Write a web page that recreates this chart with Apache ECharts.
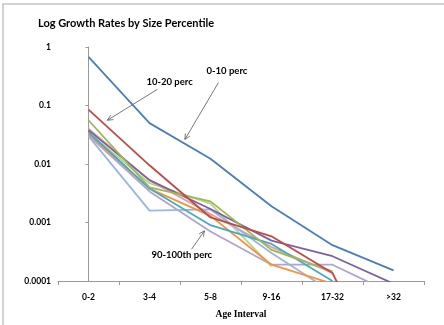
<!DOCTYPE html>
<html>
<head>
<meta charset="utf-8">
<script src="https://cdn.jsdelivr.net/npm/echarts@6/dist/echarts.min.js"></script>
<style>html,body{margin:0;padding:0;background:#fff;}#c{width:444px;height:325px;}</style>
</head>
<body>
<div id="c"></div>
<script>
const categories = ['0-2', '3-4', '5-8', '9-16', '17-32', '>32'];
const yTickLabels = ['0.0001', '0.001', '0.01', '0.1', '1'];
const seriesNames = ['0-10 perc', '10-20 perc', '20-30 perc', '30-40 perc', '40-50 perc',
  '50-60 perc', '60-70 perc', '70-80 perc', '80-90 perc', '90-100th perc'];
const p0_10   = [0.68, 0.050, 0.0123, 0.0019, 0.00041, 0.000152];
const p10_20  = [0.085, 0.0095, 0.00122, 0.00058, 0.000137, 0.000001];
const p20_30  = [0.056, 0.0040, 0.0023, 0.00034, 0.000146, null];
const p30_40  = [0.038, 0.0053, 0.0017, 0.00049, 0.000265, 0.00009];
const p40_50  = [0.035, 0.0038, 0.0009, 0.00043, 0.0001, null];
const p50_60  = [0.033, 0.0038, 0.0013, 0.00019, 0.00009, null];
const p60_70  = [0.030, 0.0016, 0.00167, 0.0003, 0.000064, null];
const p70_80  = [0.040, 0.0053, 0.0014, 0.00038, 0.000137, null];
const p80_90  = [0.034, 0.0047, 0.0021, 0.000178, null, null];
const p90_100 = [0.031, 0.0034, 0.0007, 0.00019, 0.00019, 0.00006];
const seriesValues = [p0_10, p10_20, p20_30, p30_40, p40_50, p50_60, p60_70, p70_80, p80_90, p90_100];
const colors = ['#4A7EBB', '#BE4B48', '#98B954', '#7D60A0', '#46AAC5', '#F69240',
  '#9DB4DC', '#E0A09D', '#B9D48A', '#B1A2CF'];
// annotations in data space: [label, textPos, lineStart, arrowTip] as [categoryIndex, value]
const annotations = [
  ['10-20 perc', [1.33, 0.255], [1.13, 0.189], [0.31, 0.056]],
  ['0-10 perc', [2.27, 0.388], [2.13, 0.246], [1.58, 0.0263]],
  ['90-100th perc', [1.53, 0.000278], [1.69, 0.00035], [1.90, 0.00072]]
];

const chart = echarts.init(document.getElementById('c'), null, {renderer: 'canvas'});
const labelFont = {fontFamily: 'Lato', fontWeight: 'bold', fontSize: 8.5, color: '#000'};
chart.setOption({
  animation: false,
  backgroundColor: '#fff',
  title: {
    text: 'Log Growth Rates by Size Percentile',
    left: 38, top: 18, padding: 0,
    textStyle: {fontFamily: 'Lato', fontWeight: 'bold', fontSize: 11, color: '#000'}
  },
  grid: {left: 58, right: 20, top: 47, bottom: 35},
  xAxis: [{
    type: 'category', data: categories, boundaryGap: true,
    name: 'Age Interval', nameLocation: 'middle', nameGap: 29,
    nameTextStyle: {fontFamily: 'Liberation Serif', fontWeight: 'bold', fontSize: 9.5, color: '#000'},
    axisLine: {show: true, lineStyle: {color: '#9a9a9a', width: 1}},
    axisTick: {show: true, length: 4, alignWithLabel: false, lineStyle: {color: '#9a9a9a'}},
    axisLabel: Object.assign({margin: 12}, labelFont),
    splitLine: {show: false}
  }, {
    type: 'value', min: -0.5, max: 5.5, show: false
  }],
  yAxis: {
    type: 'log', logBase: 10, min: 0.0001, max: 1,
    axisLine: {show: true, lineStyle: {color: '#9a9a9a', width: 1}},
    axisTick: {show: true, length: 3, lineStyle: {color: '#9a9a9a'}},
    axisLabel: Object.assign({margin: 7, formatter: function (v) {
      const i = Math.round(Math.log10(v)) + 4;
      return yTickLabels[i] !== undefined ? yTickLabels[i] : '';
    }}, labelFont),
    splitLine: {show: false}
  },
  series: seriesValues.map(function (vals, i) {
    return {
      name: seriesNames[i], type: 'line', data: vals, xAxisIndex: 0,
      showSymbol: false, symbol: 'none', clip: true, connectNulls: false,
      lineStyle: {color: colors[i], width: 1.8},
      z: 10 - i
    };
  })
});

function arrowGraphics() {
  const els = [];
  els.push({type: 'rect', shape: {x: 3, y: 4, width: 470, height: 400},
    style: {fill: 'none', stroke: '#c4c4c4', lineWidth: 1.5}, silent: true});
  annotations.forEach(function (a) {
    const t = chart.convertToPixel({xAxisIndex: 1, yAxisIndex: 0}, a[1]);
    const s = chart.convertToPixel({xAxisIndex: 1, yAxisIndex: 0}, a[2]);
    const e = chart.convertToPixel({xAxisIndex: 1, yAxisIndex: 0}, a[3]);
    els.push({type: 'text', x: t[0], y: t[1], style: {text: a[0], align: 'center', verticalAlign: 'middle',
      font: 'bold 9.5px Lato', fill: '#000'}});
    els.push({type: 'line', shape: {x1: s[0], y1: s[1], x2: e[0], y2: e[1]},
      style: {stroke: '#555', lineWidth: 0.8}});
    const ang = Math.atan2(e[1] - s[1], e[0] - s[0]);
    const L = 6, w = 0.45;
    els.push({type: 'polyline', shape: {points: [
      [e[0] - L * Math.cos(ang - w), e[1] - L * Math.sin(ang - w)],
      [e[0], e[1]],
      [e[0] - L * Math.cos(ang + w), e[1] - L * Math.sin(ang + w)]
    ]}, style: {stroke: '#555', lineWidth: 0.8, fill: 'none'}});
  });
  return els;
}
chart.setOption({graphic: arrowGraphics()});
</script>
</body>
</html>
